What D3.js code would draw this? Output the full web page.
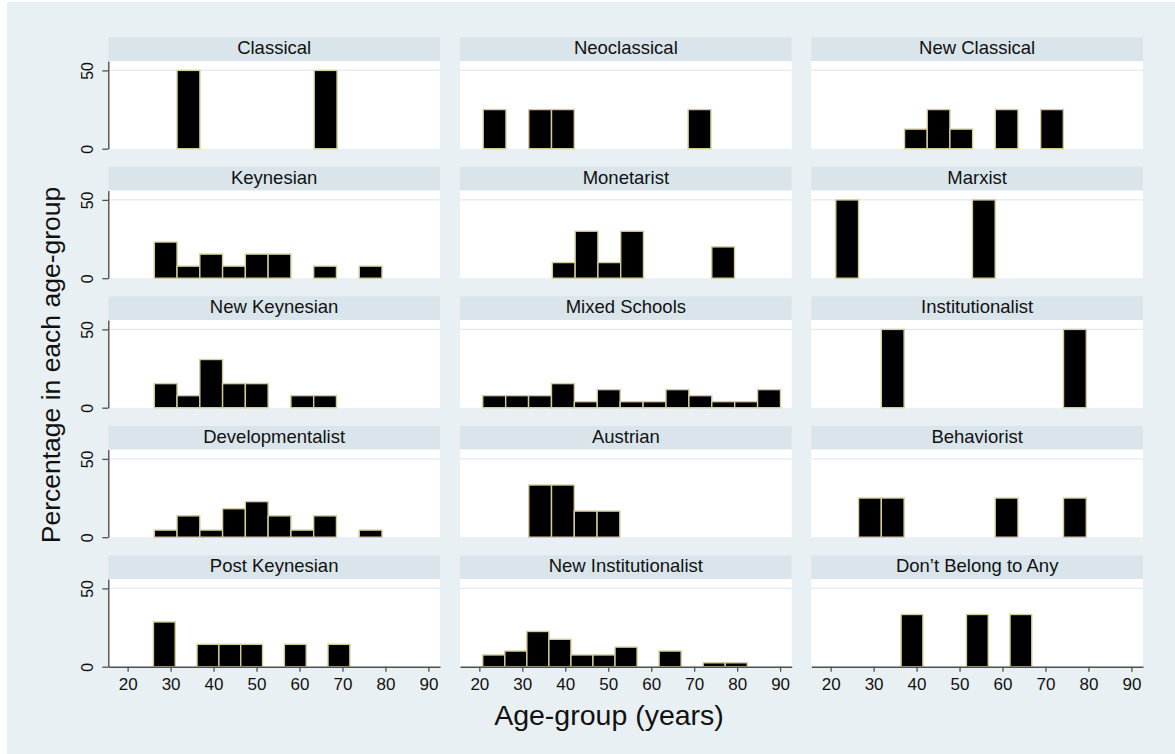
<!DOCTYPE html>
<html>
<head>
<meta charset="utf-8">
<script src="https://cdn.jsdelivr.net/npm/d3@7"></script>
<style>
  body { margin: 0; background: #ffffff; }
  svg { display: block; }
  text { font-family: "Liberation Sans", Arial, Helvetica, sans-serif; fill: #111; }
</style>
</head>
<body>
<svg id="chart" width="1175" height="754"></svg>
<script>
// Schools of thought, one histogram panel each (read left-to-right, top-to-bottom)
const schools = [
  "Classical", "Neoclassical", "New Classical",
  "Keynesian", "Monetarist", "Marxist",
  "New Keynesian", "Mixed Schools", "Institutionalist",
  "Developmentalist", "Austrian", "Behaviorist",
  "Post Keynesian", "New Institutionalist", "Don\u2019t Belong to Any"
];

// First bin edge (years) of each panel's histogram
const binStart = [31.5, 20.9, 37.2, 26.2, 37.0, 21.2, 26.2, 20.8, 31.8, 26.2, 31.5, 26.5, 26.0, 20.8, 36.4];

// Bin width (years) of each panel's histogram
const binWidth = [5.32, 5.3, 5.28, 5.3, 5.3, 5.3, 5.3, 5.33, 5.3, 5.3, 5.3, 5.3, 5.08, 5.13, 5.07];

// Percentage of each school's members falling in each bin
const percents = [
  [50, 0, 0, 0, 0, 0, 50],
  [25, 0, 25, 25, 0, 0, 0, 0, 0, 25],
  [12.5, 25, 12.5, 0, 25, 0, 25],
  [23.08, 7.69, 15.38, 7.69, 15.38, 15.38, 0, 7.69, 0, 7.69],
  [10, 30, 10, 30, 0, 0, 0, 20],
  [50, 0, 0, 0, 0, 0, 50],
  [15.38, 7.69, 30.77, 15.38, 15.38, 0, 7.69, 7.69],
  [7.69, 7.69, 7.69, 15.38, 3.85, 11.54, 3.85, 3.85, 11.54, 7.69, 3.85, 3.85, 11.54],
  [50, 0, 0, 0, 0, 0, 0, 0, 50],
  [4.55, 13.64, 4.55, 18.18, 22.73, 13.64, 4.55, 13.64, 0, 4.55],
  [33.33, 33.33, 16.67, 16.67],
  [25, 25, 0, 0, 0, 0, 25, 0, 0, 25],
  [28.57, 0, 14.29, 14.29, 14.29, 0, 14.29, 0, 14.29],
  [7.5, 10, 22.5, 17.5, 7.5, 7.5, 12.5, 0, 10, 0, 2.5, 2.5],
  [33.33, 0, 0, 33.33, 0, 33.33]
];

const xTicks = [20, 30, 40, 50, 60, 70, 80, 90];
const yTicks = [0, 50];
const xDomain = [15.5, 92.7];
const yDomain = [0, 56];

const xTitle = "Age-group (years)";
const yTitle = "Percentage in each age-group";

// ---- layout ----
const nCols = 3, nRows = 5;
const colLeft = [108.3, 460, 811.3];
const panelW = 331.7;
const plotH = 87.7;
const stripH = 23.7;
const firstZero = 148.7, rowStep = 129.5;

const colors = {
  background: "#e9f0f3",
  strip: "#d9e5eb",
  plot: "#ffffff",
  grid: "#e2ebee",
  axis: "#505050",
  barFill: "#000000",
  barStroke: "#d5cc9c"
};

const svg = d3.select("#chart");

svg.append("rect")
  .attr("x", 7).attr("y", 2)
  .attr("width", 1168).attr("height", 752)
  .attr("fill", colors.background);

const x = d3.scaleLinear().domain(xDomain).range([0, panelW]);
const y = d3.scaleLinear().domain(yDomain).range([plotH, 0]);

schools.forEach((name, i) => {
  const col = i % nCols, row = Math.floor(i / nCols);
  const top = firstZero + row * rowStep - plotH;
  const g = svg.append("g").attr("transform", `translate(${colLeft[col]},${top})`);

  // title strip
  g.append("rect")
    .attr("x", 0).attr("y", -stripH)
    .attr("width", panelW).attr("height", stripH)
    .attr("fill", colors.strip);
  g.append("text")
    .attr("x", panelW / 2).attr("y", -6.8)
    .attr("text-anchor", "middle")
    .attr("font-size", 18.5)
    .text(name);

  // plot region
  g.append("rect")
    .attr("x", 0).attr("y", 0)
    .attr("width", panelW).attr("height", plotH)
    .attr("fill", colors.plot);

  // horizontal gridline at the upper tick
  g.selectAll("line.grid")
    .data(yTicks.filter(t => t > 0))
    .join("line")
    .attr("class", "grid")
    .attr("x1", 0).attr("x2", panelW)
    .attr("y1", d => y(d)).attr("y2", d => y(d))
    .attr("stroke", colors.grid)
    .attr("stroke-width", 1.3);

  // histogram bars
  const bins = percents[i]
    .map((p, k) => ({
      x0: binStart[i] + k * binWidth[i],
      x1: binStart[i] + (k + 1) * binWidth[i],
      p
    }))
    .filter(b => b.p > 0);

  g.selectAll("rect.bar")
    .data(bins)
    .join("rect")
    .attr("class", "bar")
    .attr("x", d => x(d.x0))
    .attr("width", d => x(d.x1) - x(d.x0))
    .attr("y", d => y(d.p))
    .attr("height", d => y(0) - y(d.p))
    .attr("fill", colors.barFill)
    .attr("stroke", colors.barStroke)
    .attr("stroke-width", 1.4);

  // y axis on the first column
  if (col === 0) {
    const ya = g.append("g")
      .call(d3.axisLeft(y).tickValues(yTicks).tickSize(6).tickSizeOuter(0));
    ya.select(".domain").attr("stroke", colors.axis).attr("stroke-width", 1.4);
    ya.selectAll(".tick line").attr("stroke", colors.axis).attr("stroke-width", 1.3);
    ya.selectAll(".tick text")
      .attr("x", null).attr("dy", null)
      .attr("text-anchor", "middle")
      .attr("font-size", 16)
      .attr("font-family", "\"Liberation Sans\", Arial, sans-serif")
      .attr("fill", "#111")
      .attr("transform", "translate(-15,0) rotate(-90)");
  }

  // x axis on the bottom row
  if (row === nRows - 1) {
    const xa = g.append("g")
      .attr("transform", `translate(0,${plotH})`)
      .call(d3.axisBottom(x).tickValues(xTicks).tickSize(5).tickSizeOuter(0));
    xa.select(".domain").attr("stroke", colors.axis).attr("stroke-width", 1.6);
    xa.selectAll(".tick line").attr("stroke", colors.axis).attr("stroke-width", 1.3);
    xa.selectAll(".tick text")
      .attr("y", 23.3).attr("dy", null)
      .attr("font-size", 17)
      .attr("font-family", "\"Liberation Sans\", Arial, sans-serif")
      .attr("fill", "#111");
  }
});

// axis titles
svg.append("text")
  .attr("x", 609).attr("y", 725)
  .attr("text-anchor", "middle")
  .attr("font-size", 28.5)
  .text(xTitle);

svg.append("text")
  .attr("transform", "translate(59.5,365) rotate(-90)")
  .attr("text-anchor", "middle")
  .attr("font-size", 26.5)
  .text(yTitle);
</script>
</body>
</html>
